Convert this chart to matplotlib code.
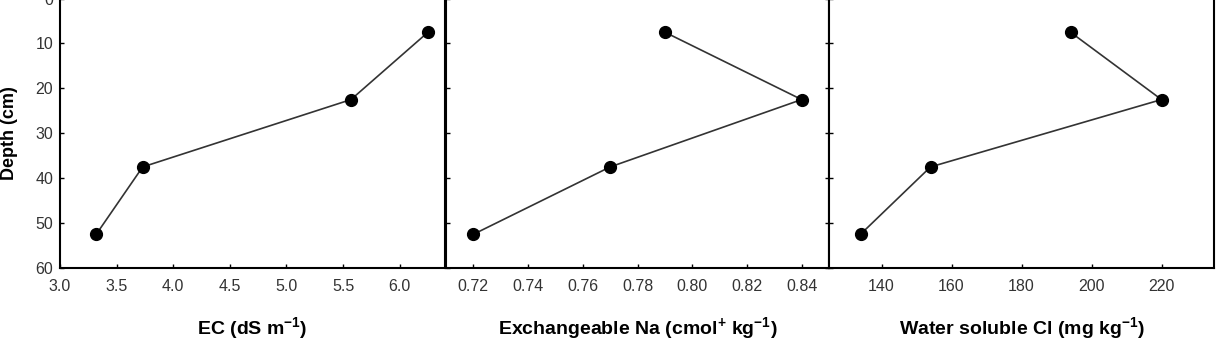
import matplotlib
matplotlib.use("Agg")
import matplotlib.pyplot as plt

plt.rcParams['font.family'] = ['Liberation Sans', 'DejaVu Sans']
plt.rcParams['mathtext.fontset'] = 'custom'
plt.rcParams['mathtext.rm'] = 'Liberation Sans'
plt.rcParams['mathtext.bf'] = 'Liberation Sans:bold'

depth = [7.5, 22.5, 37.5, 52.5]
ec = [6.25, 5.57, 3.73, 3.32]
na = [0.79, 0.84, 0.77, 0.72]
cl = [194, 220, 154, 134]

xlabels = [r'EC (dS m$^{\mathbf{-1}}$)',
           r'Exchangeable Na (cmol$^{\mathbf{+}}$ kg$^{\mathbf{-1}}$)',
           r'Water soluble Cl (mg kg$^{\mathbf{-1}}$)']
xlims = [(3.0, 6.4), (0.71, 0.85), (125, 235)]
xticks = [[3.0, 3.5, 4.0, 4.5, 5.0, 5.5, 6.0],
          [0.72, 0.74, 0.76, 0.78, 0.80, 0.82, 0.84],
          [140, 160, 180, 200, 220]]
xfmt = ['{:.1f}', '{:.2f}', '{:.0f}']
series = [ec, na, cl]

fig = plt.figure(figsize=(12.21, 3.42), dpi=100)
W, H = 1221, 342
lefts = [60, 446, 829]
rights = [445, 829, 1214]
bottom_px, top_px = 268, -1.5
for i in range(3):
    ax = fig.add_axes([lefts[i] / W, (H - bottom_px) / H,
                       (rights[i] - lefts[i]) / W, (bottom_px - top_px) / H])
    ax.plot(series[i], depth, color='#333333', lw=1.2, marker='o',
            ms=8.5, mfc='black', mec='black', zorder=3)
    ax.set_xlim(*xlims[i])
    ax.set_ylim(60, 0)
    ax.set_xticks(xticks[i])
    ax.set_xticklabels([xfmt[i].format(v) for v in xticks[i]])
    ax.set_yticks([0, 10, 20, 30, 40, 50, 60])
    for s in ax.spines.values():
        s.set_linewidth(1.5)
        s.set_color('black')
    ax.spines['top'].set_color('#cccccc')
    ax.tick_params(direction='in', length=3, width=1, labelsize=11.5,
                   labelcolor='#333333')
    ax.tick_params(axis='x', pad=8)
    ax.tick_params(axis='y', pad=5, right=(i == 1))
    if i == 0:
        ax.set_ylabel('Depth (cm)', fontsize=13, fontweight='bold')
        ax.yaxis.set_label_coords(-0.108, 0.5)
    else:
        ax.tick_params(axis='y', labelleft=False)
    ax.set_xlabel(xlabels[i], fontsize=14, fontweight='bold', labelpad=15)

fig.savefig('out.png', dpi=100)
